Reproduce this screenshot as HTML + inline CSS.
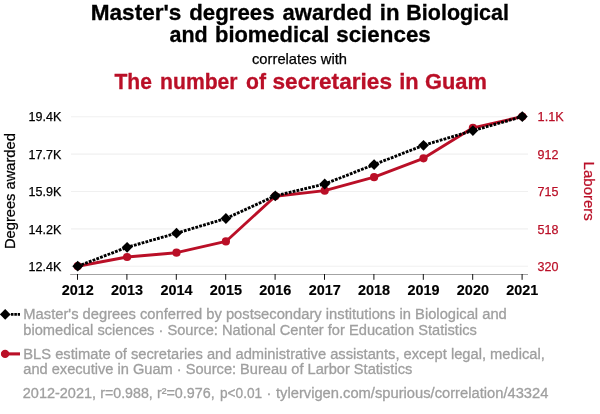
<!DOCTYPE html>
<html><head><meta charset="utf-8">
<style>
html,body{margin:0;padding:0;background:#fff;}
body{width:600px;height:414px;overflow:hidden;}
svg{display:block;font-family:"Liberation Sans",sans-serif;will-change:transform;}
</style></head><body>
<svg width="600" height="414" viewBox="0 0 600 414">
<rect width="600" height="414" fill="#fff"/>
<text transform="translate(90.73,19.5) scale(1.0172,1)" font-size="22.2" font-weight="bold" fill="#000" stroke="#000" stroke-width="0.3">Master&#39;s</text>
<text transform="translate(189.25,19.5) scale(1.0030,1)" font-size="22.2" font-weight="bold" fill="#000" stroke="#000" stroke-width="0.3">degrees</text>
<text transform="translate(282.50,19.5) scale(0.9943,1)" font-size="22.2" font-weight="bold" fill="#000" stroke="#000" stroke-width="0.3">awarded</text>
<text transform="translate(379.75,19.5) scale(1.0000,1)" font-size="22.2" font-weight="bold" fill="#000" stroke="#000" stroke-width="0.3">in</text>
<text transform="translate(406.29,19.5) scale(0.9685,1)" font-size="22.2" font-weight="bold" fill="#000" stroke="#000" stroke-width="0.3">Biological</text>
<text transform="translate(169.52,41.5) scale(0.9667,1)" font-size="22.2" font-weight="bold" fill="#000" stroke="#000" stroke-width="0.3">and</text>
<text transform="translate(215.02,41.5) scale(0.9868,1)" font-size="22.2" font-weight="bold" fill="#000" stroke="#000" stroke-width="0.3">biomedical</text>
<text transform="translate(336.24,41.5) scale(1.0081,1)" font-size="22.2" font-weight="bold" fill="#000" stroke="#000" stroke-width="0.3">sciences</text>
<text x="299.5" y="64" font-size="14.3" text-anchor="middle" textLength="95" lengthAdjust="spacingAndGlyphs" stroke="#000" stroke-width="0.25">correlates with</text>
<text transform="translate(114.50,89.4) scale(0.9484,1)" font-size="22.2" font-weight="bold" fill="#ba0f27" stroke="#ba0f27" stroke-width="0.3">The</text>
<text transform="translate(160.06,89.4) scale(0.9531,1)" font-size="22.2" font-weight="bold" fill="#ba0f27" stroke="#ba0f27" stroke-width="0.3">number</text>
<text transform="translate(246.04,89.4) scale(0.9512,1)" font-size="22.2" font-weight="bold" fill="#ba0f27" stroke="#ba0f27" stroke-width="0.3">of</text>
<text transform="translate(272.49,89.4) scale(1.0194,1)" font-size="22.2" font-weight="bold" fill="#ba0f27" stroke="#ba0f27" stroke-width="0.3">secretaries</text>
<text transform="translate(399.27,89.4) scale(0.9853,1)" font-size="22.2" font-weight="bold" fill="#ba0f27" stroke="#ba0f27" stroke-width="0.3">in</text>
<text transform="translate(425.01,89.4) scale(0.9836,1)" font-size="22.2" font-weight="bold" fill="#ba0f27" stroke="#ba0f27" stroke-width="0.3">Guam</text>
<g stroke="#f0f0f0" stroke-width="1.07">
<line x1="71" x2="528" y1="116.8" y2="116.8"/>
<line x1="71" x2="528" y1="154.15" y2="154.15"/>
<line x1="71" x2="528" y1="191.5" y2="191.5"/>
<line x1="71" x2="528" y1="228.85" y2="228.85"/>
<line x1="71" x2="528" y1="266.2" y2="266.2"/>
</g>
<line x1="70.2" x2="528" y1="274.5" y2="274.5" stroke="#999" stroke-width="0.9"/>
<g stroke="#111" stroke-width="1">
<line x1="77.5" x2="77.5" y1="274" y2="279.8"/>
<line x1="126.9" x2="126.9" y1="274" y2="279.8"/>
<line x1="176.3" x2="176.3" y1="274" y2="279.8"/>
<line x1="225.7" x2="225.7" y1="274" y2="279.8"/>
<line x1="275.1" x2="275.1" y1="274" y2="279.8"/>
<line x1="324.5" x2="324.5" y1="274" y2="279.8"/>
<line x1="373.9" x2="373.9" y1="274" y2="279.8"/>
<line x1="423.3" x2="423.3" y1="274" y2="279.8"/>
<line x1="472.7" x2="472.7" y1="274" y2="279.8"/>
<line x1="522.1" x2="522.1" y1="274" y2="279.8"/>
</g>
<g font-size="14.45" font-weight="bold" text-anchor="middle" fill="#000" stroke="#000" stroke-width="0.15">
<text x="77.7" y="294.85">2012</text>
<text x="127.1" y="294.85">2013</text>
<text x="176.5" y="294.85">2014</text>
<text x="225.9" y="294.85">2015</text>
<text x="275.3" y="294.85">2016</text>
<text x="324.7" y="294.85">2017</text>
<text x="374.1" y="294.85">2018</text>
<text x="423.5" y="294.85">2019</text>
<text x="472.9" y="294.85">2020</text>
<text x="522.3" y="294.85">2021</text>
</g>
<g font-size="13" text-anchor="end" fill="#000" stroke="#000" stroke-width="0.25">
<text x="61.4" y="120.8" textLength="32.8" lengthAdjust="spacingAndGlyphs">19.4K</text>
<text x="61.4" y="158.7" textLength="32.8" lengthAdjust="spacingAndGlyphs">17.7K</text>
<text x="61.4" y="196.1" textLength="32.8" lengthAdjust="spacingAndGlyphs">15.9K</text>
<text x="61.4" y="233.85" textLength="32.8" lengthAdjust="spacingAndGlyphs">14.2K</text>
<text x="61.4" y="271.0" textLength="32.8" lengthAdjust="spacingAndGlyphs">12.4K</text>
</g>
<g font-size="13" text-anchor="start" fill="#ba0f27" stroke="#ba0f27" stroke-width="0.25">
<text x="537.6" y="120.8" textLength="26.2" lengthAdjust="spacingAndGlyphs">1.1K</text>
<text x="537.6" y="158.7" textLength="20.9" lengthAdjust="spacingAndGlyphs">912</text>
<text x="537.6" y="196.1" textLength="20.9" lengthAdjust="spacingAndGlyphs">715</text>
<text x="537.6" y="233.85" textLength="20.9" lengthAdjust="spacingAndGlyphs">518</text>
<text x="537.6" y="271.0" textLength="20.9" lengthAdjust="spacingAndGlyphs">320</text>
</g>
<text transform="translate(15,191.1) rotate(-90)" text-anchor="middle" font-size="14.7" fill="#000" stroke="#000" stroke-width="0.25">Degrees awarded</text>
<text transform="translate(584.2,191.2) rotate(90)" text-anchor="middle" font-size="15" fill="#ba0f27" stroke="#ba0f27" stroke-width="0.25">Laborers</text>
<polyline fill="none" stroke="#ba0f27" stroke-width="2.9" stroke-linejoin="round" points="77.7,266.2 127.1,257.0 176.5,252.7 225.9,241.45 275.3,196.2 324.7,190.65 374.1,177.2 423.5,158.3 472.9,127.85 522.3,116.6"/>
<g fill="#ba0f27">
<circle cx="77.7" cy="266.2" r="4.1"/>
<circle cx="127.1" cy="257.0" r="4.1"/>
<circle cx="176.5" cy="252.7" r="4.1"/>
<circle cx="225.9" cy="241.45" r="4.1"/>
<circle cx="275.3" cy="196.2" r="4.1"/>
<circle cx="324.7" cy="190.65" r="4.1"/>
<circle cx="374.1" cy="177.2" r="4.1"/>
<circle cx="423.5" cy="158.3" r="4.1"/>
<circle cx="472.9" cy="127.85" r="4.1"/>
<circle cx="522.3" cy="116.6" r="4.1"/>
</g>
<polyline fill="none" stroke="#000" stroke-width="2.9" stroke-dasharray="2.8,1.2" points="77.7,266.2 127.1,247.3 176.5,233.2 225.9,218.5 275.3,195.8 324.7,184.0 374.1,164.6 423.5,145.3 472.9,130.6 522.3,116.6"/>
<g fill="#000">
<path d="M77.7,260.8l5.4,5.4l-5.4,5.4l-5.4,-5.4z"/>
<path d="M127.1,241.9l5.4,5.4l-5.4,5.4l-5.4,-5.4z"/>
<path d="M176.5,227.8l5.4,5.4l-5.4,5.4l-5.4,-5.4z"/>
<path d="M225.9,213.1l5.4,5.4l-5.4,5.4l-5.4,-5.4z"/>
<path d="M275.3,190.4l5.4,5.4l-5.4,5.4l-5.4,-5.4z"/>
<path d="M324.7,178.6l5.4,5.4l-5.4,5.4l-5.4,-5.4z"/>
<path d="M374.1,159.2l5.4,5.4l-5.4,5.4l-5.4,-5.4z"/>
<path d="M423.5,139.9l5.4,5.4l-5.4,5.4l-5.4,-5.4z"/>
<path d="M472.9,125.2l5.4,5.4l-5.4,5.4l-5.4,-5.4z"/>
<path d="M522.3,111.2l5.4,5.4l-5.4,5.4l-5.4,-5.4z"/>
</g>
<line x1="10.9" x2="20" y1="314.4" y2="314.4" stroke="#000" stroke-width="2.9" stroke-dasharray="2.6,0.8"/>
<path d="M5.2,309.0l5.4,5.4l-5.4,5.4l-5.4,-5.4z" fill="#000"/>
<line x1="1.5" x2="20" y1="353.9" y2="353.9" stroke="#ba0f27" stroke-width="3.1"/>
<circle cx="5.1" cy="353.9" r="4.2" fill="#ba0f27"/>
<g font-size="14.7" fill="#9f9f9f" stroke="#9f9f9f" stroke-width="0.3">
<text x="23.3" y="319.2" textLength="483.5" lengthAdjust="spacingAndGlyphs">Master's degrees conferred by postsecondary institutions in Biological and</text>
<text x="23.3" y="334.5" textLength="453.5" lengthAdjust="spacingAndGlyphs">biomedical sciences · Source: National Center for Education Statistics</text>
<text x="23.3" y="358.5" textLength="521.5" lengthAdjust="spacingAndGlyphs">BLS estimate of secretaries and administrative assistants, except legal, medical,</text>
<text x="23.3" y="374.3" textLength="389" lengthAdjust="spacingAndGlyphs">and executive in Guam · Source: Bureau of Larbor Statistics</text>
<text x="269" y="397.5" text-anchor="middle">·</text>
</g>
<text transform="translate(22.81,397.5) scale(0.9856,1)" font-size="14.7" font-weight="normal" fill="#9f9f9f" stroke="#9f9f9f" stroke-width="0.3">2012-2021,</text>
<text transform="translate(100.28,397.5) scale(0.9657,1)" font-size="14.7" font-weight="normal" fill="#9f9f9f" stroke="#9f9f9f" stroke-width="0.3">r=0.988,</text>
<text transform="translate(156.97,397.5) scale(0.9747,1)" font-size="14.7" font-weight="normal" fill="#9f9f9f" stroke="#9f9f9f" stroke-width="0.3">r²=0.976,</text>
<text transform="translate(220.00,397.5) scale(0.9318,1)" font-size="14.7" font-weight="normal" fill="#9f9f9f" stroke="#9f9f9f" stroke-width="0.3">p&lt;0.01</text>
<text transform="translate(276.00,397.5) scale(1.0018,1)" font-size="14.7" font-weight="normal" fill="#9f9f9f" stroke="#9f9f9f" stroke-width="0.3">tylervigen.com/spurious/correlation/43324</text>
</svg>
</body></html>
